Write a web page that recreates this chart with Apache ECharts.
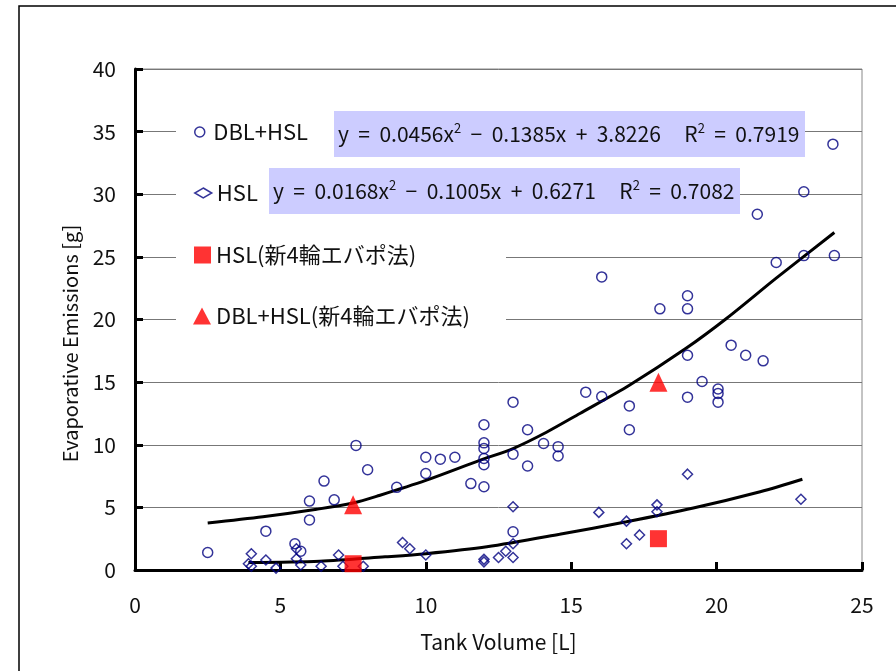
<!DOCTYPE html>
<html><head><meta charset="utf-8">
<script src="https://cdn.jsdelivr.net/npm/echarts@6/dist/echarts.min.js"></script>
<style>html,body{margin:0;padding:0;background:#fff}#c{width:896px;height:671px}</style>
</head><body><div id="c"></div>
<script>
var FONT = '"Noto Sans CJK JP", "Liberation Sans", sans-serif';
var xTicks = [0, 5, 10, 15, 20, 25];
var yTicks = [0, 5, 10, 15, 20, 25, 30, 35, 40];
var seriesNames = ['DBL+HSL', 'HSL', 'HSL(新4輪エバポ法)', 'DBL+HSL(新4輪エバポ法)'];
var dblHsl = [[2.5,1.4],[4.5,3.1],[5.5,2.1],[5.7,1.5],[6.0,4.0],[6.0,5.5],[6.5,7.1],[6.85,5.6],[7.6,9.95],[8.0,8.0],
  [9.0,6.6],[10.0,9.0],[10.0,7.7],[10.5,8.85],[11.0,9.0],[11.55,6.9],[12.0,11.6],[12.0,10.15],[12.0,9.7],[12.0,8.9],
  [12.0,8.4],[12.0,6.65],[13.0,13.4],[13.0,9.25],[13.0,3.05],[13.5,11.2],[13.5,8.3],[14.05,10.1],[14.55,9.85],[14.55,9.1],
  [15.5,14.2],[16.05,13.85],[16.05,23.4],[17.0,13.1],[17.0,11.2],[18.05,20.85],[19.0,21.9],[19.0,20.85],[19.0,17.15],[19.0,13.8],
  [19.5,15.05],[20.05,14.45],[20.05,14.1],[20.05,13.4],[20.5,17.95],[21.0,17.15],[21.6,16.7],[21.4,28.4],[22.05,24.55],[23.0,30.2],
  [23.0,25.1],[24.05,25.1],[24.0,34.0]];
var hsl = [[3.9,0.5],[4.0,1.3],[4.0,0.3],[4.5,0.8],[4.85,0.15],[5.55,1.7],[5.55,0.9],[5.7,0.4],[6.4,0.3],[7.0,1.2],
  [7.15,0.3],[7.85,0.3],[9.2,2.2],[9.45,1.7],[10.0,1.2],[12.0,0.85],[12.0,0.65],[12.5,1.0],[12.75,1.5],[13.0,2.1],
  [13.0,1.0],[13.0,5.05],[15.95,4.6],[16.9,3.9],[16.9,2.1],[17.35,2.8],[17.95,5.2],[17.95,4.65],[19.0,7.65],[22.9,5.65]];
var hslNew = [[7.5,0.5],[18.0,2.5]];
var dblHslNew = [[7.5,5.2],[18.0,15.0]];
var trendDblHsl = [[2.5,3.75],[4.4,4.25],[6.25,4.85],[7.5,5.35],[8.4,5.95],[10,7.15],[11.85,8.75],[13,9.7],[14.15,11.0],
  [15.3,12.5],[17.0,14.75],[18.95,17.7],[20.35,20.1],[22.05,23.3],[24.05,26.95]];
var trendHsl = [[3.9,0.6],[6.35,0.7],[8.6,1.05],[10,1.3],[12.1,1.85],[14.6,2.85],[16.9,3.85],[19.2,4.95],[21.5,6.25],[22.95,7.25]];
var eqDblHsl = ['y  =  0.0456x', '2', '  \u2212  0.1385x  +  3.8226     R', '2', '  =  0.7919'];
var eqHsl = ['y  =  0.0168x', '2', '  \u2212  0.1005x  +  0.6271     R', '2', '  =  0.7082'];

function eqText(p){ return p[0] + '{s|' + p[1] + '}' + p[2] + '{s|' + p[3] + '}' + p[4]; }
var navy = '#000080', red = '#ff0000';
var legText = {fontFamily: FONT, fontSize: 22, color: '#111', lineHeight: 26};
function legend(name, icon, w, h, left, top, style){
  return {data: [{name: name, icon: icon, itemStyle: style}], left: left, top: top, orient: 'vertical', padding: 0,
    itemWidth: w, itemHeight: h, itemGap: 0, textStyle: legText, selectedMode: false};
}
function eqTitle(p, left, top){
  return {text: eqText(p), left: left, top: top, padding: [10, 3, 10, 4], backgroundColor: '#ccccff',
    textStyle: {fontFamily: FONT, fontSize: 21, fontWeight: 'normal', color: '#111', lineHeight: 26, width: 464,
      rich: {s: {fontFamily: FONT, fontSize: 13, color: '#111', padding: [0, 0, 12, 0], lineHeight: 14}}}};
}
var chart = echarts.init(document.getElementById('c'));
chart.setOption({
  animation: false,
  backgroundColor: '#fff',
  textStyle: {fontFamily: FONT},
  grid: {left: 135, right: 34, top: 69, bottom: 101, show: true, borderColor: '#888', borderWidth: 1},
  graphic: [
    {type: 'rect', shape: {x: 19, y: 6, width: 900, height: 700}, style: {fill: 'none', stroke: '#000', lineWidth: 1.5}, z: 0},
    {type: 'rect', shape: {x: 176, y: 110, width: 330, height: 228}, style: {fill: '#fff'}, z: 1}
  ],
  title: [eqTitle(eqDblHsl, 334, 111), eqTitle(eqHsl, 269, 168)],
  legend: [
    legend(seriesNames[0], 'circle', 17, 10, 194, 119, {color: 'rgba(0,0,0,0)', borderColor: navy, borderWidth: 1.5}),
    legend(seriesNames[1], 'diamond', 17, 10, 194, 180, {color: 'rgba(0,0,0,0)', borderColor: navy, borderWidth: 1.5}),
    legend(seriesNames[2], 'rect', 17, 17, 194, 242, {color: red}),
    legend(seriesNames[3], 'triangle', 18, 17, 193, 303, {color: red})
  ],
  xAxis: {
    type: 'value', min: xTicks[0], max: xTicks[xTicks.length - 1], interval: 5,
    name: 'Tank Volume [L]', nameLocation: 'middle', nameGap: 62,
    nameTextStyle: {fontFamily: FONT, fontSize: 21, color: '#111'},
    axisLine: {lineStyle: {color: '#000', width: 3}},
    axisTick: {inside: true, length: 8, lineStyle: {color: '#000', width: 3}},
    axisLabel: {margin: 25, fontFamily: FONT, fontSize: 21, color: '#111',
      formatter: function(v){ return xTicks.indexOf(v) >= 0 ? String(v) : ''; }},
    splitLine: {show: false}
  },
  yAxis: {
    type: 'value', min: yTicks[0], max: yTicks[yTicks.length - 1], interval: 5,
    name: 'Evaporative Emissions [g]', nameLocation: 'middle', nameGap: 55,
    nameTextStyle: {fontFamily: FONT, fontSize: 20, color: '#111', padding: [0, 48, 0, 0]},
    axisLine: {show: true, lineStyle: {color: '#000', width: 3}},
    axisTick: {show: true, inside: true, length: 8, lineStyle: {color: '#000', width: 3}},
    axisLabel: {margin: 19, fontFamily: FONT, fontSize: 21, color: '#111',
      formatter: function(v){ return yTicks.indexOf(v) >= 0 ? String(v) : ''; }},
    splitLine: {show: true, lineStyle: {color: '#777', width: 1}}
  },
  series: [
    {name: seriesNames[0], type: 'scatter', data: dblHsl, symbol: 'circle', symbolSize: 10,
      itemStyle: {color: 'rgba(0,0,0,0)', borderColor: navy, borderWidth: 1.5}, z: 3},
    {name: seriesNames[1], type: 'scatter', data: hsl, symbol: 'diamond', symbolSize: 10,
      itemStyle: {color: 'rgba(0,0,0,0)', borderColor: navy, borderWidth: 1.5}, z: 3},
    {name: 'trend1', type: 'line', data: trendDblHsl, showSymbol: false, smooth: 0.3,
      lineStyle: {color: '#000', width: 3}, z: 2, silent: true},
    {name: 'trend2', type: 'line', data: trendHsl, showSymbol: false, smooth: 0.3,
      lineStyle: {color: '#000', width: 3}, z: 2, silent: true},
    {name: seriesNames[2], type: 'scatter', data: hslNew, symbol: 'rect', symbolSize: 17,
      itemStyle: {color: red}, z: 4},
    {name: seriesNames[3], type: 'scatter', data: dblHslNew, symbol: 'triangle', symbolSize: [18, 19],
      itemStyle: {color: red}, z: 4}
  ]
});
</script></body></html>
